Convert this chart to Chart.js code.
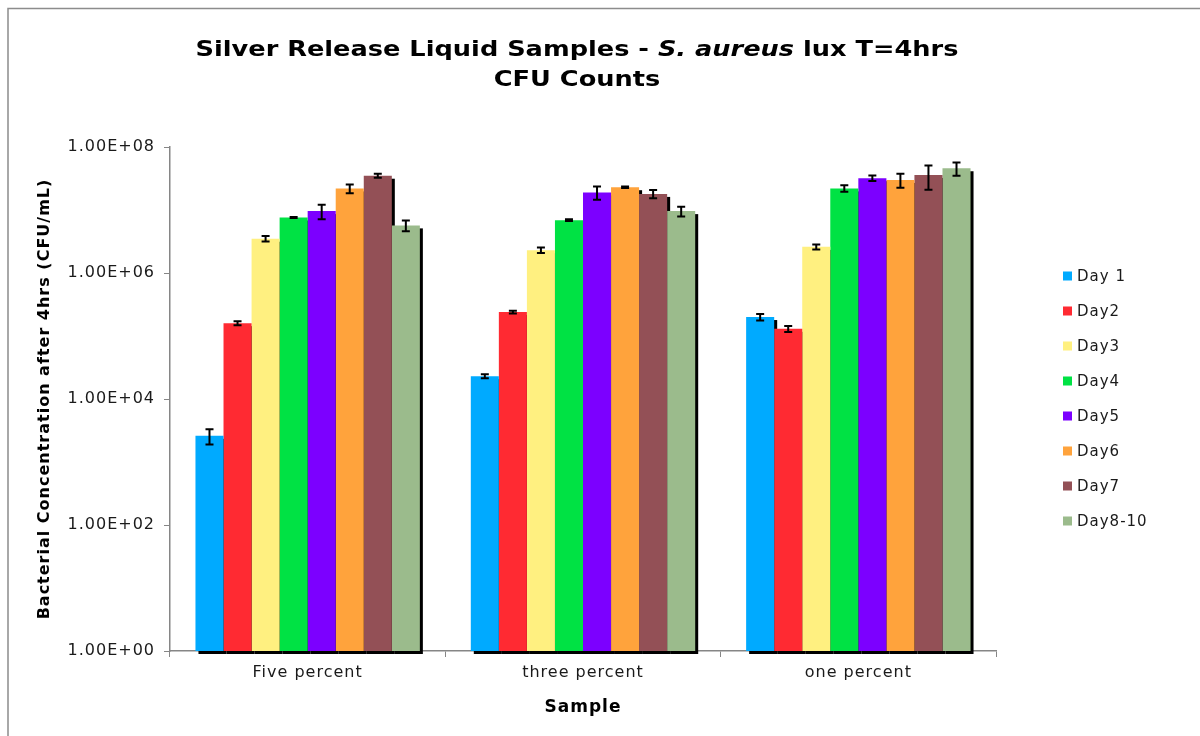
<!DOCTYPE html>
<html>
<head>
<meta charset="utf-8">
<title>Silver Release Liquid Samples - CFU Counts</title>
<script src="https://cdn.jsdelivr.net/npm/chart.js@4.4.1/dist/chart.umd.min.js"></script>
<style>
  html, body { margin: 0; padding: 0; background: #fff; }
  #wrap { width: 1200px; height: 736px; position: relative; }
</style>
</head>
<body>
<div id="wrap"><canvas id="cfuChart" width="1200" height="736"></canvas></div>
<script>
// Data
const categories = ['Five percent', 'three percent', 'one percent'];
const seriesLabels = ['Day 1', 'Day2', 'Day3', 'Day4', 'Day5', 'Day6', 'Day7', 'Day8-10'];
const seriesColors = ['#00aaff', '#ff2a32', '#fff080', '#00e244', '#7c00ff', '#ffa33c', '#935056', '#9bbb8c'];

const day1 = [2.6e3, 2.3e4, 2.0e5];
const day2 = [1.6e5, 2.4e5, 1.3e5];
const day3 = [3.5e6, 2.3e6, 2.6e6];
const day4 = [7.6e6, 6.9e6, 2.2e7];
const day5 = [9.6e6, 1.9e7, 3.2e7];
const day6 = [2.2e7, 2.3e7, 3.0e7];
const day7 = [3.5e7, 1.8e7, 3.6e7];
const day8to10 = [5.7e6, 9.6e6, 4.6e7];

const err1 = [700, 1.7e3, 2.4e4];
const err2 = [1.2e4, 1.2e4, 1.4e4];
const err3 = [3.5e5, 2.3e5, 2.4e5];
const err4 = [1.5e5, 2.0e5, 2.6e6];
const err5 = [2.5e6, 4.5e6, 3.2e6];
const err6 = [3.5e6, 6.0e5, 7.5e6];
const err7 = [2.5e6, 2.7e6, 1.5e7];
const err8 = [1.1e6, 1.7e6, 1.1e7];

const yTicks = [1, 1e2, 1e4, 1e6, 1e8];

const seriesValues = [day1, day2, day3, day4, day5, day6, day7, day8to10];
const seriesErrors = [err1, err2, err3, err4, err5, err6, err7, err8];

const FONT = "'DejaVu Sans', Verdana, sans-serif";
const AXIS_GRAY = '#868686';

function sci(v) {
  const exp = Math.round(Math.log10(v));
  const mant = v / Math.pow(10, exp);
  const sign = exp < 0 ? '-' : '+';
  return mant.toFixed(2) + 'E' + sign + String(Math.abs(exp)).padStart(2, '0');
}

// Frame, title and legend drawn on the canvas
const decorPlugin = {
  id: 'decor',
  beforeDraw(chart) {
    const ctx = chart.ctx;
    ctx.fillStyle = '#fff';
    ctx.fillRect(0, 0, chart.width, chart.height);
    ctx.save();
    ctx.strokeStyle = '#8c8c8c';
    ctx.lineWidth = 1.5;
    ctx.beginPath();
    ctx.moveTo(8, chart.height);
    ctx.lineTo(8, 8.5);
    ctx.lineTo(chart.width, 8.5);
    ctx.stroke();
    ctx.restore();
    // the original text is set a little wider than DejaVu
    ctx.letterSpacing = '1px';
  },
  afterDraw(chart) {
    const ctx = chart.ctx;
    const cx = 577;
    ctx.save();
    ctx.fillStyle = '#000';
    ctx.textBaseline = 'middle';

    // title line 1 with italic species name, stretched to the original width
    ctx.letterSpacing = '0px';
    const parts = [
      { t: 'Silver Release Liquid Samples - ', f: 'bold 22px ' + FONT },
      { t: 'S. aureus', f: 'italic bold 22px ' + FONT },
      { t: ' lux T=4hrs', f: 'bold 22px ' + FONT }
    ];
    let total = 0;
    parts.forEach(p => { ctx.font = p.f; p.w = ctx.measureText(p.t).width; total += p.w; });
    const sx = 763 / total;
    ctx.save();
    ctx.translate(cx, 0);
    ctx.scale(sx, 1);
    let x = -total / 2;
    ctx.textAlign = 'left';
    parts.forEach(p => { ctx.font = p.f; ctx.fillText(p.t, x, 50); x += p.w; });
    ctx.font = 'bold 22px ' + FONT;
    ctx.textAlign = 'center';
    ctx.fillText('CFU Counts', 0, 80);
    ctx.restore();

    // legend
    ctx.letterSpacing = '1px';
    ctx.font = '15px ' + FONT;
    ctx.textAlign = 'left';
    seriesLabels.forEach((lab, i) => {
      const y = 276 + i * 35;
      ctx.fillStyle = seriesColors[i];
      ctx.fillRect(1063, y - 4.5, 9, 9);
      ctx.fillStyle = '#1a1a1a';
      ctx.fillText(lab, 1077, y + 1);
    });
    ctx.restore();
  }
};

// Black drop shadow behind all bars (bars are then drawn on top)
const shadowPlugin = {
  id: 'barShadow',
  beforeDatasetsDraw(chart) {
    const ctx = chart.ctx;
    ctx.save();
    ctx.fillStyle = '#000';
    chart.data.datasets.forEach((ds, i) => {
      chart.getDatasetMeta(i).data.forEach(bar => {
        const { x, y, base, width } = bar.getProps(['x', 'y', 'base', 'width'], true);
        ctx.fillRect(x - width / 2 + 3, y + 3, width, base - y);
      });
    });
    ctx.restore();
  }
};

// Error bars from the error arrays
const errorBarPlugin = {
  id: 'errorBars',
  afterDatasetsDraw(chart) {
    const ctx = chart.ctx;
    const yScale = chart.scales.y;
    ctx.save();
    ctx.strokeStyle = '#000';
    ctx.lineWidth = 2;
    chart.data.datasets.forEach((ds, i) => {
      const meta = chart.getDatasetMeta(i);
      meta.data.forEach((bar, j) => {
        const v = ds.data[j];
        const e = seriesErrors[i][j];
        const yHi = yScale.getPixelForValue(v + e);
        const yLo = yScale.getPixelForValue(Math.max(v - e, 1));
        const x = bar.x;
        ctx.beginPath();
        ctx.moveTo(x, yHi); ctx.lineTo(x, yLo);
        ctx.moveTo(x - 4, yHi); ctx.lineTo(x + 4, yHi);
        ctx.moveTo(x - 4, yLo); ctx.lineTo(x + 4, yLo);
        ctx.stroke();
      });
    });
    ctx.restore();
  }
};

new Chart(document.getElementById('cfuChart'), {
  type: 'bar',
  data: {
    labels: categories,
    datasets: seriesLabels.map((lab, i) => ({
      label: lab,
      data: seriesValues[i],
      backgroundColor: seriesColors[i],
      borderWidth: 0,
      barPercentage: 1.0,
      categoryPercentage: 0.815
    }))
  },
  options: {
    responsive: false,
    animation: false,
    devicePixelRatio: 1,
    layout: { padding: { top: 147, right: 204, bottom: 0, left: 8 } },
    plugins: {
      legend: { display: false },
      title: { display: false },
      tooltip: { enabled: false }
    },
    scales: {
      x: {
        grid: { drawOnChartArea: false, drawTicks: true, tickLength: 6, color: AXIS_GRAY, offset: true },
        border: { display: true, color: AXIS_GRAY, width: 1.5 },
        ticks: { color: '#1a1a1a', font: { family: FONT, size: 16 }, padding: 6 },
        title: {
          display: true,
          text: 'Sample',
          color: '#000',
          font: { family: FONT, size: 17, weight: 'bold' },
          padding: { top: 4, bottom: 18 }
        },
        afterFit(scale) { scale.height = 85; }
      },
      y: {
        type: 'logarithmic',
        min: 1,
        max: 1e8,
        grid: { drawOnChartArea: false, drawTicks: true, tickLength: 6, color: AXIS_GRAY },
        border: { display: true, color: AXIS_GRAY, width: 1.5 },
        afterBuildTicks(scale) { scale.ticks = yTicks.map(v => ({ value: v })); },
        ticks: {
          color: '#1a1a1a',
          font: { family: FONT, size: 16 },
          padding: 9,
          callback: (v) => sci(v)
        },
        title: {
          display: true,
          text: 'Bacterial Concentration after 4hrs (CFU/mL)',
          color: '#000',
          font: { family: FONT, size: 16, weight: 'bold' },
          padding: { top: 27, bottom: 0 }
        },
        afterFit(scale) { scale.width = 162; }
      }
    }
  },
  plugins: [decorPlugin, shadowPlugin, errorBarPlugin]
});
</script>
</body>
</html>
